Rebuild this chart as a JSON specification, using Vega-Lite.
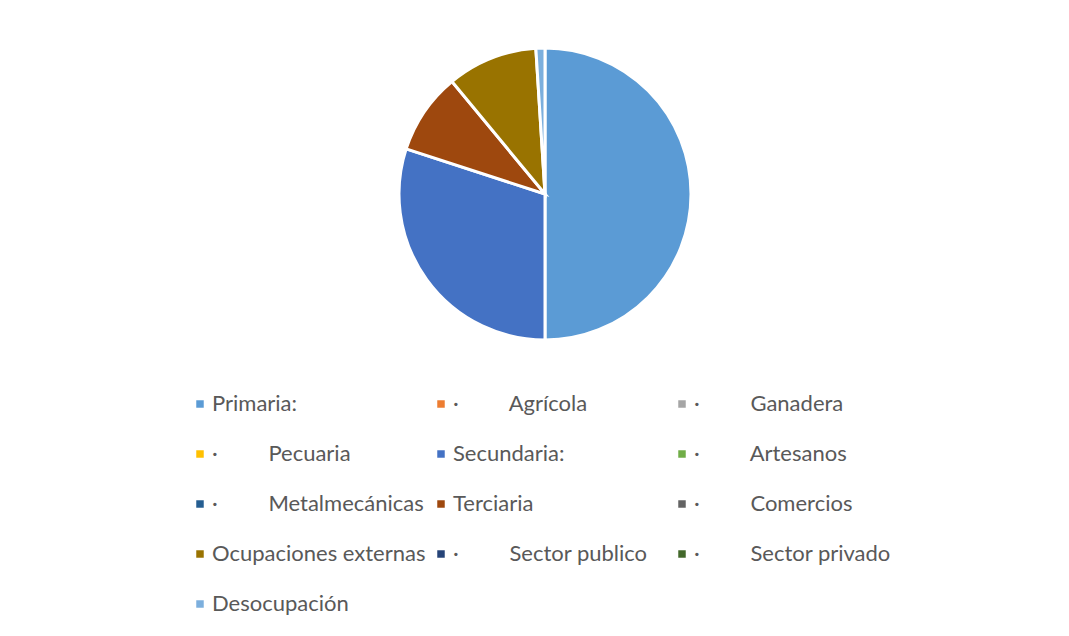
{
  "$schema": "https://vega.github.io/schema/vega-lite/v6.json",
  "width": 1065,
  "height": 624,
  "autosize": {"type": "none"},
  "padding": {"left": 4, "top": 12, "right": 0, "bottom": 0},
  "background": "white",
  "config": {
    "view": {"stroke": "#D9D9D9", "strokeWidth": 1, "strokeDash": [1065, 1689, 624, 100]},
    "font": "Lato"
  },
  "data": {
    "values": [
      {"categoria": "Primaria:", "valor": 50, "orden": 1},
      {"categoria": "·\tAgrícola", "valor": 0, "orden": 2},
      {"categoria": "·\tGanadera", "valor": 0, "orden": 3},
      {"categoria": "·\tPecuaria", "valor": 0, "orden": 4},
      {"categoria": "Secundaria:", "valor": 30, "orden": 5},
      {"categoria": "·\tArtesanos", "valor": 0, "orden": 6},
      {"categoria": "·\tMetalmecánicas", "valor": 0, "orden": 7},
      {"categoria": "Terciaria", "valor": 9, "orden": 8},
      {"categoria": "·\tComercios", "valor": 0, "orden": 9},
      {"categoria": "Ocupaciones externas", "valor": 10, "orden": 10},
      {"categoria": "·\tSector publico", "valor": 0, "orden": 11},
      {"categoria": "·\tSector privado", "valor": 0, "orden": 12},
      {"categoria": "Desocupación", "valor": 1, "orden": 13}
    ]
  },
  "transform": [{"filter": "datum.valor > 0"}],
  "mark": {
    "type": "arc",
    "radius": 146,
    "stroke": "white",
    "strokeWidth": 3,
    "xOffset": 8.5,
    "yOffset": -130
  },
  "encoding": {
    "theta": {"field": "valor", "type": "quantitative", "stack": true},
    "order": {"field": "orden", "type": "quantitative"},
    "color": {
      "field": "categoria",
      "type": "nominal",
      "sort": null,
      "scale": {
        "domain": ["Primaria:", "·\tAgrícola", "·\tGanadera", "·\tPecuaria", "Secundaria:", "·\tArtesanos", "·\tMetalmecánicas", "Terciaria", "·\tComercios", "Ocupaciones externas", "·\tSector publico", "·\tSector privado", "Desocupación"],
        "range": ["#5B9BD5", "#ED7D31", "#A5A5A5", "#FFC000", "#4472C4", "#70AD47", "#255E91", "#9E480E", "#636363", "#997300", "#264478", "#43682B", "#7CAFDD"]
      },
      "legend": {
        "title": null,
        "orient": "none",
        "direction": "horizontal",
        "legendX": 185,
        "legendY": 381,
        "columns": 3,
        "gridAlign": "all",
        "columnPadding": 4,
        "rowPadding": 28,
        "symbolType": "square",
        "symbolSize": 56,
        "symbolStrokeWidth": 0,
        "labelOffset": 1,
        "labelFontSize": 22,
        "labelFont": "Lato",
        "labelColor": "#595959",
        "labelLimit": 400,
        "labelExpr": "replace(datum.label, '\t', '\u00a0\u00a0\u00a0\u00a0\u00a0\u00a0\u00a0\u00a0\u00a0')"
      }
    }
  }
}
